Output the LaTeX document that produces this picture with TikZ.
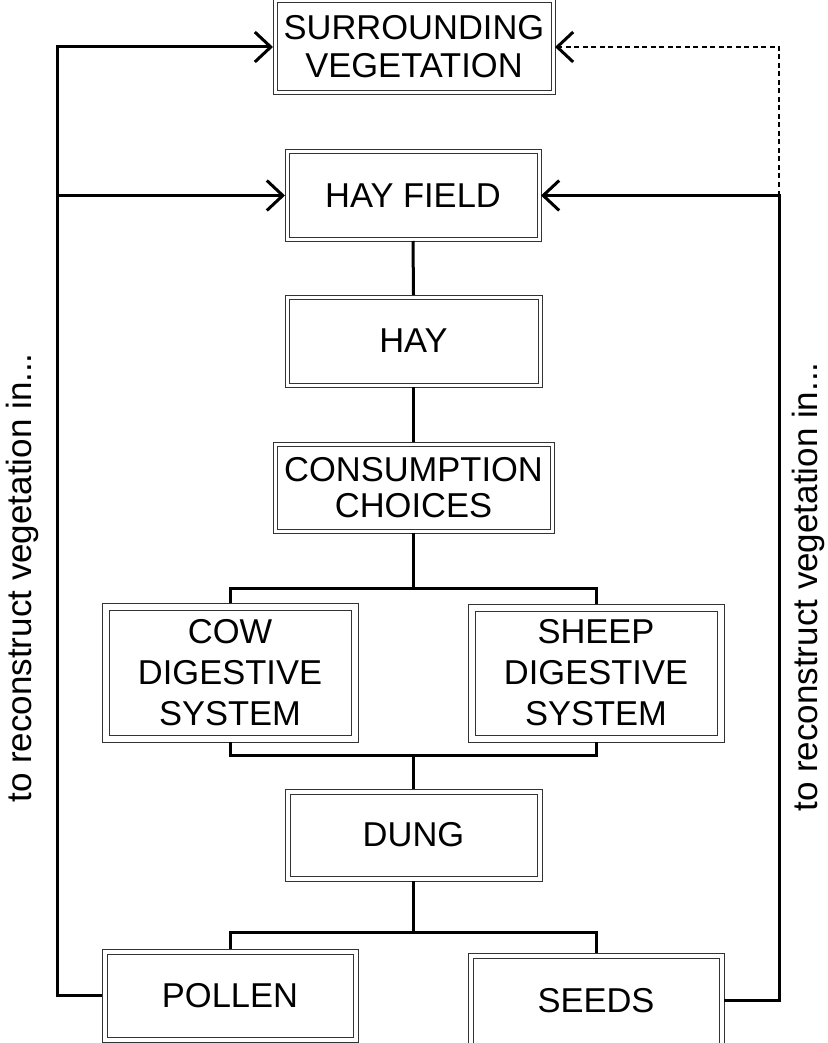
\documentclass[tikz,border=0pt]{standalone}
\usepackage{fontspec}
\setmainfont{Liberation Sans}
\usetikzlibrary{arrows.meta}
\begin{document}
\begin{tikzpicture}[x=1pt,y=-1pt,
  boxinset/.store in=\boxinset, boxinset=4pt,
  dbox/.style={draw=black!80, line width=1pt, fill=white, inner sep=0pt, outer sep=0pt,
    align=center, font=\fontsize{34.5}{39}\selectfont,
    path picture={\draw[black!80,line width=1pt]
      ([shift={(\boxinset,\boxinset)}]path picture bounding box.south west) rectangle
      ([shift={(-\boxinset,-\boxinset)}]path picture bounding box.north east);}},
  conn/.style={line width=3pt, line join=miter},
  arr/.style={conn, -{Straight Barb[length=16pt,width=30pt]}},
  dotarr/.style={line width=2.6pt, dash pattern=on 5pt off 3.5pt, -{Straight Barb[length=16pt,width=30pt,line width=3pt]}},
  side/.style={font=\fontsize{35}{40}\selectfont, rotate=90, inner sep=0pt}
]
\useasboundingbox (0,0) rectangle (827,1043);

\node[dbox, minimum width=282pt, minimum height=96pt, font=\fontsize{34.5}{38}\selectfont] (surr) at (414,47) {SURROUNDING\\VEGETATION};
\node[dbox, minimum width=256pt, minimum height=91pt] (hayf) at (413,195.5) {HAY FIELD};
\node[dbox, minimum width=257pt, minimum height=92pt] (hay) at (413.5,341) {HAY};
\node[dbox, minimum width=281pt, minimum height=91pt, font=\fontsize{34.5}{36}\selectfont] (cons) at (413.5,487.5) {CONSUMPTION\\CHOICES};
\node[dbox, boxinset=7pt, minimum width=256pt, minimum height=139pt, font=\fontsize{34.5}{41}\selectfont] (cow) at (230,672.5) {COW\\DIGESTIVE\\SYSTEM};
\node[dbox, boxinset=7pt, minimum width=256pt, minimum height=138pt, font=\fontsize{34.5}{41}\selectfont] (sheep) at (596,673) {SHEEP\\DIGESTIVE\\SYSTEM};
\node[dbox, boxinset=5pt, minimum width=257pt, minimum height=92pt] (dung) at (413.5,835) {DUNG};
\node[dbox, boxinset=5pt, minimum width=256pt, minimum height=93pt] (pollen) at (230,995.5) {POLLEN};
\node[dbox, boxinset=5pt, minimum width=256pt, minimum height=95pt] (seeds) at (596,1000.5) {SEEDS};

\node[side] (lt) at (22,578) {to reconstruct vegetation in...};
\node[side] (rt) at (808,587) {to reconstruct vegetation in...};

\coordinate (j1) at (413.5,588);
\coordinate (j2) at (413.5,755);
\coordinate (j3) at (413.5,932);
\coordinate (lb) at (57,995.5);
\coordinate (lm) at (57,195.5);
\coordinate (ltop) at (57,47);
\coordinate (rb) at (779,1000.5);
\coordinate (rm) at (779,195.5);
\coordinate (rtop) at (779,47);

\draw[conn] (hayf.south) -- (hay.north);
\draw[conn] (hay.south) -- (cons.north);
\draw[conn] (cons.south) -- (j1);
\draw[conn] (cow.north) |- (j1) -| (sheep.north);
\draw[conn] (cow.south) |- (j2) -| (sheep.south);
\draw[conn] (j2) -- (dung.north);
\draw[conn] (dung.south) -- (j3);
\draw[conn] (pollen.north) |- (j3) -| (seeds.north);

\draw[arr] (pollen.west) -- (lb) -- (ltop) -- (surr.west);
\draw[arr] (lm) -- (hayf.west);
\draw[arr] (seeds.east) -- (rb) -- (rm) -- (hayf.east);
\draw[dotarr] (rm) -- (rtop) -- (surr.east);
\end{tikzpicture}
\end{document}
